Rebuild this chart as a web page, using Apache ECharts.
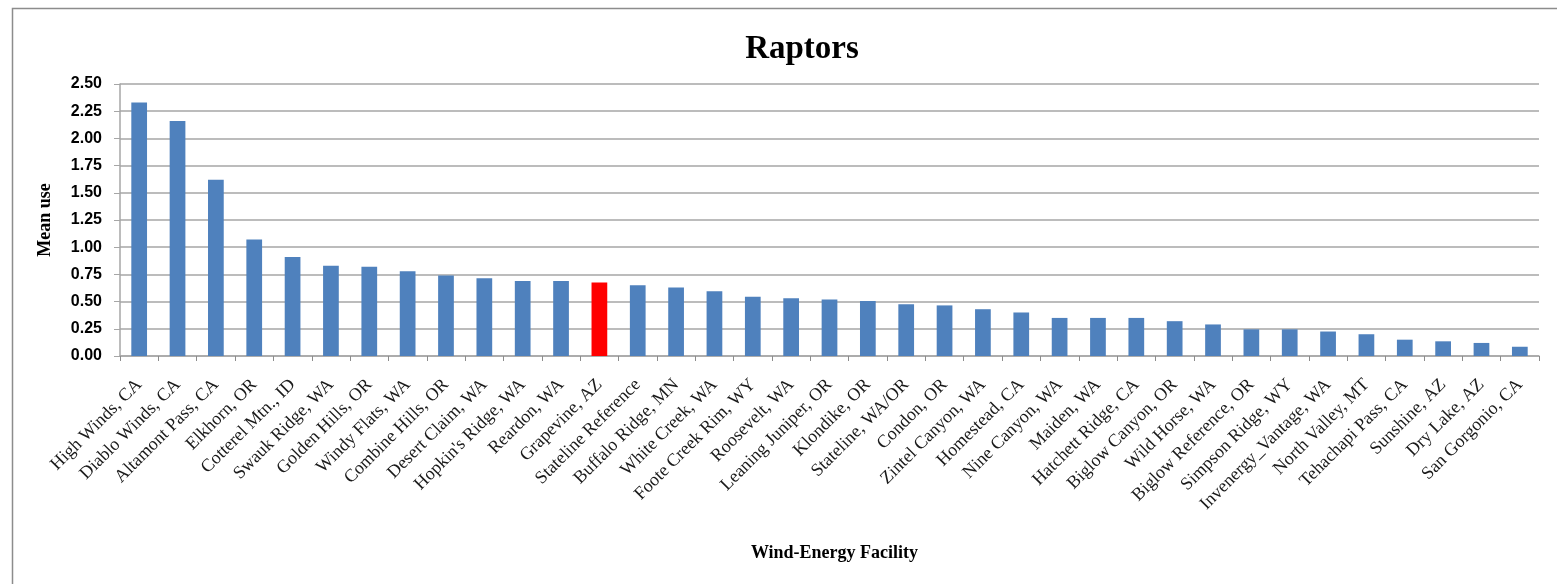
<!DOCTYPE html>
<html>
<head>
<meta charset="utf-8">
<script src="https://cdn.jsdelivr.net/npm/echarts@6/dist/echarts.min.js"></script>
<style>
html,body{margin:0;padding:0;background:#fff;}
#chart{width:1557px;height:584px;}
</style>
</head>
<body>
<div id="chart"></div>
<script>
const categories = [
  "High Winds, CA","Diablo Winds, CA","Altamont Pass, CA","Elkhorn, OR","Cotterel Mtn., ID",
  "Swauk Ridge, WA","Golden Hills, OR","Windy Flats, WA","Combine Hills, OR","Desert Claim, WA",
  "Hopkin's Ridge, WA","Reardon, WA","Grapevine, AZ","Stateline Reference","Buffalo Ridge, MN",
  "White Creek, WA","Foote Creek Rim, WY","Roosevelt, WA","Leaning Juniper, OR","Klondike, OR",
  "Stateline, WA/OR","Condon, OR","Zintel Canyon, WA","Homestead, CA","Nine Canyon, WA",
  "Maiden, WA","Hatchett Ridge, CA","Biglow Canyon, OR","Wild Horse, WA","Biglow Reference, OR",
  "Simpson Ridge, WY","Invenergy_Vantage, WA","North Valley, MT","Tehachapi Pass, CA","Sunshine, AZ",
  "Dry Lake, AZ","San Gorgonio, CA"
];
const meanUse = [
  2.33, 2.16, 1.62, 1.07, 0.91,
  0.83, 0.82, 0.78, 0.74, 0.715,
  0.69, 0.69, 0.675, 0.65, 0.63,
  0.595, 0.545, 0.53, 0.52, 0.505,
  0.475, 0.465, 0.43, 0.40, 0.35,
  0.35, 0.35, 0.32, 0.29, 0.245,
  0.245, 0.225, 0.20, 0.15, 0.135,
  0.12, 0.085
];
const highlighted = "Grapevine, AZ";

const chart = echarts.init(document.getElementById('chart'));
chart.setOption({
  animation: false,
  backgroundColor: '#fff',
  graphic: [{
    type: 'rect', left: 10, top: 6,
    shape: {width: 1600, height: 640},
    style: {fill: 'none', stroke: '#8c8c8c', lineWidth: 1.5},
    silent: true, z: -1
  }],
  title: {
    text: 'Raptors', left: 797, top: 28, textAlign: 'center',
    textStyle: {fontFamily: 'Liberation Serif', fontWeight: 'bold', fontSize: 33, color: '#000'}
  },
  grid: {left: 120, right: 18, top: 84, bottom: 228, containLabel: false},
  xAxis: {
    type: 'category', data: categories,
    name: 'Wind-Energy Facility', nameLocation: 'middle', nameGap: 188,
    nameTextStyle: {fontFamily: 'Liberation Serif', fontWeight: 'bold', fontSize: 18, color: '#000', padding: [0, 0, 0, 10]},
    axisLine: {lineStyle: {color: '#a6a6a6', width: 1.5}},
    axisTick: {show: true, length: 5, lineStyle: {color: '#8c8c8c'}},
    axisLabel: {rotate: 45, interval: 0, margin: 26, fontFamily: 'Liberation Serif', fontSize: 18, color: '#1a1a1a'}
  },
  yAxis: {
    type: 'value', min: 0, max: 2.5, interval: 0.25,
    name: 'Mean use', nameLocation: 'middle', nameGap: 66, nameRotate: 90,
    nameTextStyle: {fontFamily: 'Liberation Serif', fontWeight: 'bold', fontSize: 18, color: '#000'},
    axisLine: {show: true, lineStyle: {color: '#a6a6a6', width: 1.5}},
    axisTick: {show: true, length: 6, lineStyle: {color: '#a6a6a6'}},
    splitLine: {lineStyle: {color: '#a6a6a6', width: 1.5}},
    axisLabel: {margin: 18, fontFamily: 'Liberation Sans', fontWeight: 'bold', fontSize: 16, color: '#000',
      formatter: v => v.toFixed(2)}
  },
  series: [{
    type: 'bar', barWidth: '41%',
    data: meanUse.map((v, i) => ({
      value: v,
      itemStyle: {color: categories[i] === highlighted ? '#ff0000' : '#4f81bd'}
    }))
  }]
});
</script>
</body>
</html>
